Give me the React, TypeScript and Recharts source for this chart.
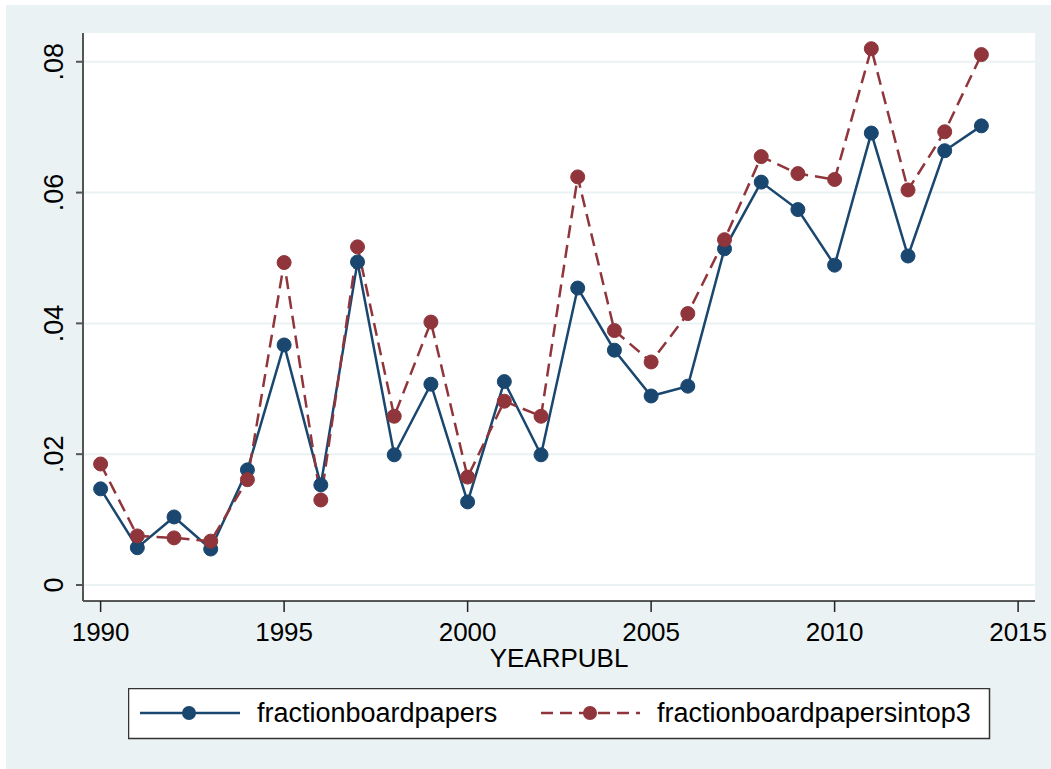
import React from "react";
import { LineChart, Line, XAxis, YAxis, CartesianGrid } from "recharts";

const years = [1990,1991,1992,1993,1994,1995,1996,1997,1998,1999,2000,2001,2002,2003,2004,2005,2006,2007,2008,2009,2010,2011,2012,2013,2014];
const fractionBoard = [0.0147,0.0057,0.0104,0.0055,0.0176,0.0367,0.0153,0.0494,0.0199,0.0307,0.0127,0.0311,0.0199,0.0454,0.0359,0.0289,0.0304,0.0514,0.0616,0.0574,0.0489,0.0691,0.0503,0.0664,0.0702];
const fractionTop3 = [0.0185,0.0075,0.0072,0.0067,0.0161,0.0493,0.0130,0.0517,0.0258,0.0402,0.0165,0.0281,0.0258,0.0624,0.0389,0.0341,0.0415,0.0528,0.0655,0.0629,0.0620,0.0820,0.0604,0.0693,0.0811];
const xTicks = [1990,1995,2000,2005,2010,2015];
const yTicks = [0,0.02,0.04,0.06,0.08];
const seriesNames = ["fractionboardpapers","fractionboardpapersintop3"];

const data = years.map((y, i) => ({ year: y, a: fractionBoard[i], b: fractionTop3[i] }));

const BLUE = "#1A476F";
const RED = "#90353B";
const BG = "#EAF2F3";
const FONT = "'Liberation Sans', Arial, sans-serif";

const fmtY = (v: number) => (v === 0 ? "0" : String(v).replace(/^0/, ""));

const YTick = (props: any) => {
  const { x, y, payload } = props;
  const bx = x - 11;
  return (
    <text
      x={bx}
      y={y}
      transform={`rotate(-90 ${bx} ${y})`}
      textAnchor="middle"
      fontSize={27}
      fontFamily={FONT}
      fill="#000"
    >
      {fmtY(payload.value)}
    </text>
  );
};

const XTick = (props: any) => {
  const { x, y, payload } = props;
  return (
    <text x={x} y={y + 27} textAnchor="middle" fontSize={26} fontFamily={FONT} fill="#000">
      {payload.value}
    </text>
  );
};

export default function App() {
  return (
    <div style={{ position: "absolute", left: 0, top: 0, width: 1051, height: 769, background: "#fff" }}>
      <style>{`body{margin:0}`}</style>
      <div style={{ position: "absolute", left: 6, top: 5, width: 1045, height: 764, background: BG }}>
        <LineChart
          width={1045}
          height={764}
          data={data}
          margin={{ top: 28, right: 16, left: 0, bottom: 0 }}
        >
          <CartesianGrid
            vertical={false}
            stroke={BG}
            strokeWidth={2}
            fill="#fff"
            horizontalValues={yTicks}
          />
          <XAxis
            dataKey="year"
            type="number"
            domain={[1989.52, 2015.46]}
            ticks={xTicks}
            allowDataOverflow
            height={168}
            tickSize={11}
            stroke="#222"
            strokeWidth={1.5}
            tick={<XTick />}
            interval={0}
            label={{ value: "YEARPUBL", position: "insideTop", offset: 48, fontSize: 26, fontFamily: FONT, fill: "#000" }}
          />
          <YAxis
            type="number"
            domain={[-0.00245, 0.0844]}
            ticks={yTicks}
            allowDataOverflow
            width={77}
            tickSize={7}
            stroke="#555"
            strokeWidth={2}
            tick={<YTick />}
            interval={0}
          />
          <Line
            dataKey="a"
            stroke={BLUE}
            strokeWidth={2.5}
            dot={{ r: 7, fill: BLUE, stroke: BLUE, strokeWidth: 1 }}
            isAnimationActive={false}
          />
          <Line
            dataKey="b"
            stroke={RED}
            strokeWidth={2.5}
            strokeDasharray="13 7"
            dot={{ r: 7, fill: RED, stroke: RED, strokeWidth: 1, strokeDasharray: "" }}
            isAnimationActive={false}
          />
        </LineChart>
        <svg
          style={{ position: "absolute", left: 122, top: 683 }}
          width={864}
          height={52}
        >
          <rect x={0.5} y={0.5} width={861} height={50} fill="#fff" stroke="#333" strokeWidth={1.5} />
          <line x1={12} y1={25} x2={112} y2={25} stroke={BLUE} strokeWidth={2.5} />
          <circle cx={61} cy={25} r={7} fill={BLUE} />
          <text x={129} y={34} fontSize={27} fontFamily={FONT} fill="#000">{seriesNames[0]}</text>
          <line x1={413} y1={25} x2={512} y2={25} stroke={RED} strokeWidth={2.5} strokeDasharray="12 7" />
          <circle cx={462} cy={25} r={7} fill={RED} />
          <text x={529} y={34} fontSize={27} fontFamily={FONT} fill="#000">{seriesNames[1]}</text>
        </svg>
      </div>
    </div>
  );
}
